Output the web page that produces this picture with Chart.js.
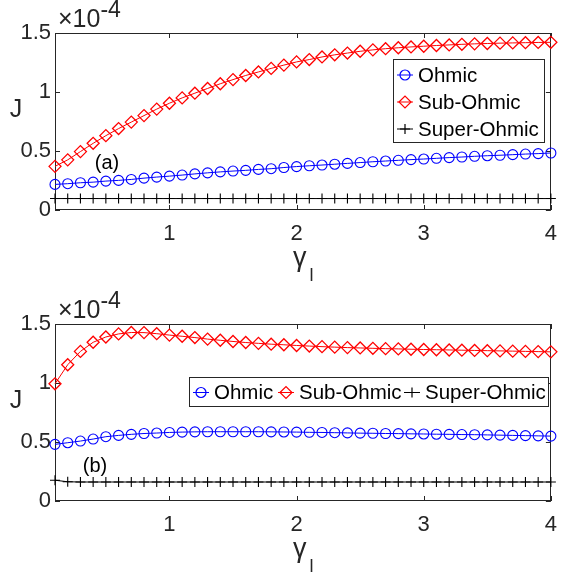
<!DOCTYPE html>
<html><head><meta charset="utf-8">
<script src="https://cdn.jsdelivr.net/npm/chart.js@4/dist/chart.umd.min.js"></script>
<style>
html,body{margin:0;padding:0;background:#fff;overflow:hidden}
.wrap{position:absolute;left:0;width:568px}
canvas{display:block}
</style></head><body>
<div class="wrap" style="top:0;height:290px"><canvas id="ca" width="568" height="290"></canvas></div>
<div class="wrap" style="top:290px;height:289px"><canvas id="cb" width="568" height="289"></canvas></div>
<script>
// ---- data (J in units of 1e-4) ----
const gammaL = [0.1,0.2,0.3,0.4,0.5,0.6,0.7,0.8,0.9,1.0,1.1,1.2,1.3,1.4,1.5,1.6,1.7,1.8,1.9,2.0,
                2.1,2.2,2.3,2.4,2.5,2.6,2.7,2.8,2.9,3.0,3.1,3.2,3.3,3.4,3.5,3.6,3.7,3.8,3.9,4.0];
const seriesNames = ['Ohmic','Sub-Ohmic','Super-Ohmic'];
const xTicks = [1,2,3,4];
const yTicks = [0,0.5,1,1.5];
const exponentLabel = ['\u00D710','-4'];
const yLabel = 'J';
const xLabel = ['\u03B3','l'];
const panelLabels = ['(a)','(b)'];

const ohmicA = [0.217,0.223,0.231,0.236,0.245,0.251,0.259,0.270,0.279,0.287,0.296,0.306,0.315,0.323,0.330,0.336,0.344,0.350,0.360,0.368,
                0.375,0.381,0.388,0.395,0.402,0.409,0.415,0.421,0.427,0.432,0.438,0.444,0.449,0.455,0.460,0.464,0.469,0.474,0.478,0.483];
const subA   = [0.370,0.425,0.495,0.565,0.630,0.690,0.745,0.800,0.855,0.905,0.950,0.990,1.030,1.070,1.105,1.140,1.170,1.200,1.228,1.255,
                1.275,1.297,1.315,1.330,1.345,1.357,1.367,1.375,1.382,1.388,1.394,1.399,1.404,1.408,1.411,1.414,1.416,1.418,1.420,1.421];
const superA = [0.097,0.097,0.097,0.097,0.097,0.097,0.097,0.097,0.097,0.097,0.097,0.097,0.097,0.097,0.097,0.097,0.097,0.097,0.097,0.097,
                0.097,0.097,0.097,0.097,0.097,0.097,0.097,0.097,0.097,0.097,0.097,0.097,0.097,0.097,0.097,0.097,0.097,0.097,0.097,0.097];

const ohmicB = [0.480,0.494,0.508,0.525,0.545,0.556,0.565,0.572,0.576,0.581,0.584,0.586,0.587,0.587,0.587,0.587,0.587,0.586,0.585,0.584,
                0.582,0.581,0.579,0.577,0.575,0.574,0.572,0.571,0.569,0.568,0.566,0.565,0.563,0.562,0.560,0.558,0.556,0.554,0.552,0.550];
const subB   = [0.993,1.155,1.268,1.345,1.390,1.416,1.428,1.427,1.418,1.406,1.396,1.385,1.372,1.362,1.352,1.343,1.336,1.329,1.324,1.318,
                1.313,1.308,1.304,1.300,1.297,1.294,1.291,1.289,1.286,1.284,1.282,1.280,1.278,1.276,1.274,1.272,1.270,1.268,1.266,1.264];
const superB = [0.176,0.163,0.161,0.161,0.161,0.161,0.161,0.161,0.161,0.161,0.161,0.161,0.161,0.161,0.161,0.161,0.161,0.161,0.161,0.161,
                0.161,0.161,0.161,0.161,0.161,0.161,0.161,0.161,0.161,0.161,0.161,0.161,0.161,0.161,0.161,0.161,0.161,0.161,0.161,0.161];

// ---- styling ----
const FONT = '"Liberation Sans", Arial, Helvetica, sans-serif';
const AX = '#262626';
const COLORS = ['#0000ff','#ff0000','#000000'];
const STYLES = ['circle','rectRot','cross'];
const RADII = [5,6,5];

function mkDatasets(ohm, sub, sup){
  return [ohm, sub, sup].map((arr, k) => ({
    label: seriesNames[k],
    data: gammaL.map((g,i)=>({x:g, y:arr[i]})),
    borderColor: COLORS[k],
    backgroundColor: COLORS[k],
    borderWidth: 1,
    pointStyle: STYLES[k],
    pointRadius: RADII[k],
    pointBorderColor: COLORS[k],
    pointBackgroundColor: 'rgba(255,255,255,0)',
    pointBorderWidth: k === 1 ? 1.3 : 1.1,
    tension: 0,
    clip: false,
    order: 2-k
  }));
}

function drawMarker(ctx, style, x, y, r, color){
  ctx.save();
  ctx.strokeStyle = color; ctx.lineWidth = 1.2;
  ctx.beginPath();
  if (style === 'circle') { ctx.arc(x, y, r, 0, Math.PI*2); }
  else if (style === 'rectRot') { ctx.moveTo(x-r,y); ctx.lineTo(x,y-r); ctx.lineTo(x+r,y); ctx.lineTo(x,y+r); ctx.closePath(); }
  else { ctx.moveTo(x-r,y); ctx.lineTo(x+r,y); ctx.moveTo(x,y-r); ctx.lineTo(x,y+r); }
  ctx.stroke();
  ctx.restore();
}

function legendEntry(ctx, x0, yc, k){
  ctx.save();
  ctx.strokeStyle = COLORS[k]; ctx.lineWidth = 1;
  ctx.beginPath(); ctx.moveTo(x0, yc); ctx.lineTo(x0+16, yc); ctx.stroke();
  drawMarker(ctx, STYLES[k], x0+8, yc, RADII[k], COLORS[k]);
  ctx.fillStyle = '#000';
  ctx.font = '20.5px ' + FONT;
  ctx.textBaseline = 'middle'; ctx.textAlign = 'left';
  ctx.fillText(seriesNames[k], x0+21, yc+1);
  ctx.restore();
}

function makePlugin(panel){
  return {
    id: 'decor' + panel,
    beforeDatasetsDraw(chart){
      const {ctx, chartArea:a, scales:{x, y}} = chart;
      ctx.save();
      ctx.strokeStyle = AX; ctx.lineWidth = 1;
      ctx.strokeRect(Math.round(a.left)+0.5, Math.round(a.top)+0.5, Math.round(a.right-a.left)-1, Math.round(a.bottom-a.top)-1);
      const tl = 5;
      ctx.beginPath();
      xTicks.forEach(v=>{ const px = Math.round(x.getPixelForValue(v))+0.5;
        ctx.moveTo(px, a.bottom); ctx.lineTo(px, a.bottom-tl);
        ctx.moveTo(px, a.top); ctx.lineTo(px, a.top+tl); });
      yTicks.forEach(v=>{ const py = Math.round(y.getPixelForValue(v))+0.5;
        ctx.moveTo(a.left, py); ctx.lineTo(a.left+tl, py);
        ctx.moveTo(a.right, py); ctx.lineTo(a.right-tl, py); });
      ctx.stroke();
      ctx.restore();
    },
    afterDraw(chart){
      const {ctx, chartArea:a} = chart;
      ctx.save();
      ctx.fillStyle = AX;
      // exponent
      ctx.font = '25px ' + FONT; ctx.textBaseline = 'alphabetic'; ctx.textAlign = 'left';
      ctx.fillText(exponentLabel[0], a.left+3, a.top-6);
      const w = ctx.measureText(exponentLabel[0]).width;
      ctx.font = '23px ' + FONT;
      ctx.fillText(exponentLabel[1], a.left+3+w, a.top-16);
      // y label
      ctx.font = '25px ' + FONT; ctx.textAlign = 'center'; ctx.textBaseline = 'middle';
      ctx.fillText(yLabel, 16, a.top + 77);
      // x label
      ctx.textAlign = 'left'; ctx.textBaseline = 'alphabetic';
      ctx.font = '27px ' + FONT;
      const gx = 293;
      ctx.fillText(xLabel[0], gx, a.bottom + 56);
      const gw = ctx.measureText(xLabel[0]).width;
      ctx.font = '18px ' + FONT;
      ctx.fillText(xLabel[1], gx + gw + 3, a.bottom + 71);
      // panel label
      ctx.fillStyle = '#000';
      ctx.font = '20px ' + FONT; ctx.textAlign = 'center'; ctx.textBaseline = 'middle';
      if (panel === 0) ctx.fillText(panelLabels[0], 107, 163);
      else ctx.fillText(panelLabels[1], 95, 176);
      // legend
      ctx.fillStyle = '#fff'; ctx.strokeStyle = AX; ctx.lineWidth = 1;
      if (panel === 0) {
        ctx.fillRect(393, 59, 151, 83); ctx.strokeRect(393.5, 59.5, 151, 83);
        legendEntry(ctx, 397, 75, 0);
        legendEntry(ctx, 397, 102, 1);
        legendEntry(ctx, 397, 129, 2);
      } else {
        ctx.fillRect(189, 87, 359, 29); ctx.strokeRect(189.5, 87.5, 359, 29);
        legendEntry(ctx, 193, 102.5, 0);
        legendEntry(ctx, 278, 102.5, 1);
        legendEntry(ctx, 404, 102.5, 2);
      }
      ctx.restore();
    }
  };
}

function makeChart(id, datasets, panel, topPad, xHeight){
  return new Chart(document.getElementById(id), {
    type: 'line',
    data: { datasets },
    options: {
      responsive: false, animation: false, devicePixelRatio: 1,
      events: [],
      layout: { padding: { top: topPad, right: 5, left: 0, bottom: 0 } },
      plugins: { legend: { display: false }, tooltip: { enabled: false } },
      scales: {
        x: { type: 'linear', min: 0.1, max: 4,
             grid: { display: false, drawTicks: false }, border: { display: false },
             ticks: { font: { family: FONT, size: 22 }, color: AX, padding: 11, autoSkip: false, maxRotation: 0,
                      callback: v => String(v) },
             afterBuildTicks: s => { s.ticks = xTicks.map(v => ({ value: v })); },
             afterFit: s => { s.height = xHeight; } },
        y: { type: 'linear', min: 0, max: 1.5,
             grid: { display: false, drawTicks: false }, border: { display: false },
             ticks: { font: { family: FONT, size: 22 }, color: AX, padding: 4, callback: v => String(v) },
             afterBuildTicks: s => { s.ticks = yTicks.map(v => ({ value: v })); },
             afterFit: s => { s.width = 55; } }
      }
    },
    plugins: [makePlugin(panel)]
  });
}

makeChart('ca', mkDatasets(ohmicA, subA, superA), 0, 33, 80);
makeChart('cb', mkDatasets(ohmicB, subB, superB), 1, 34, 78);
</script>
</body></html>
